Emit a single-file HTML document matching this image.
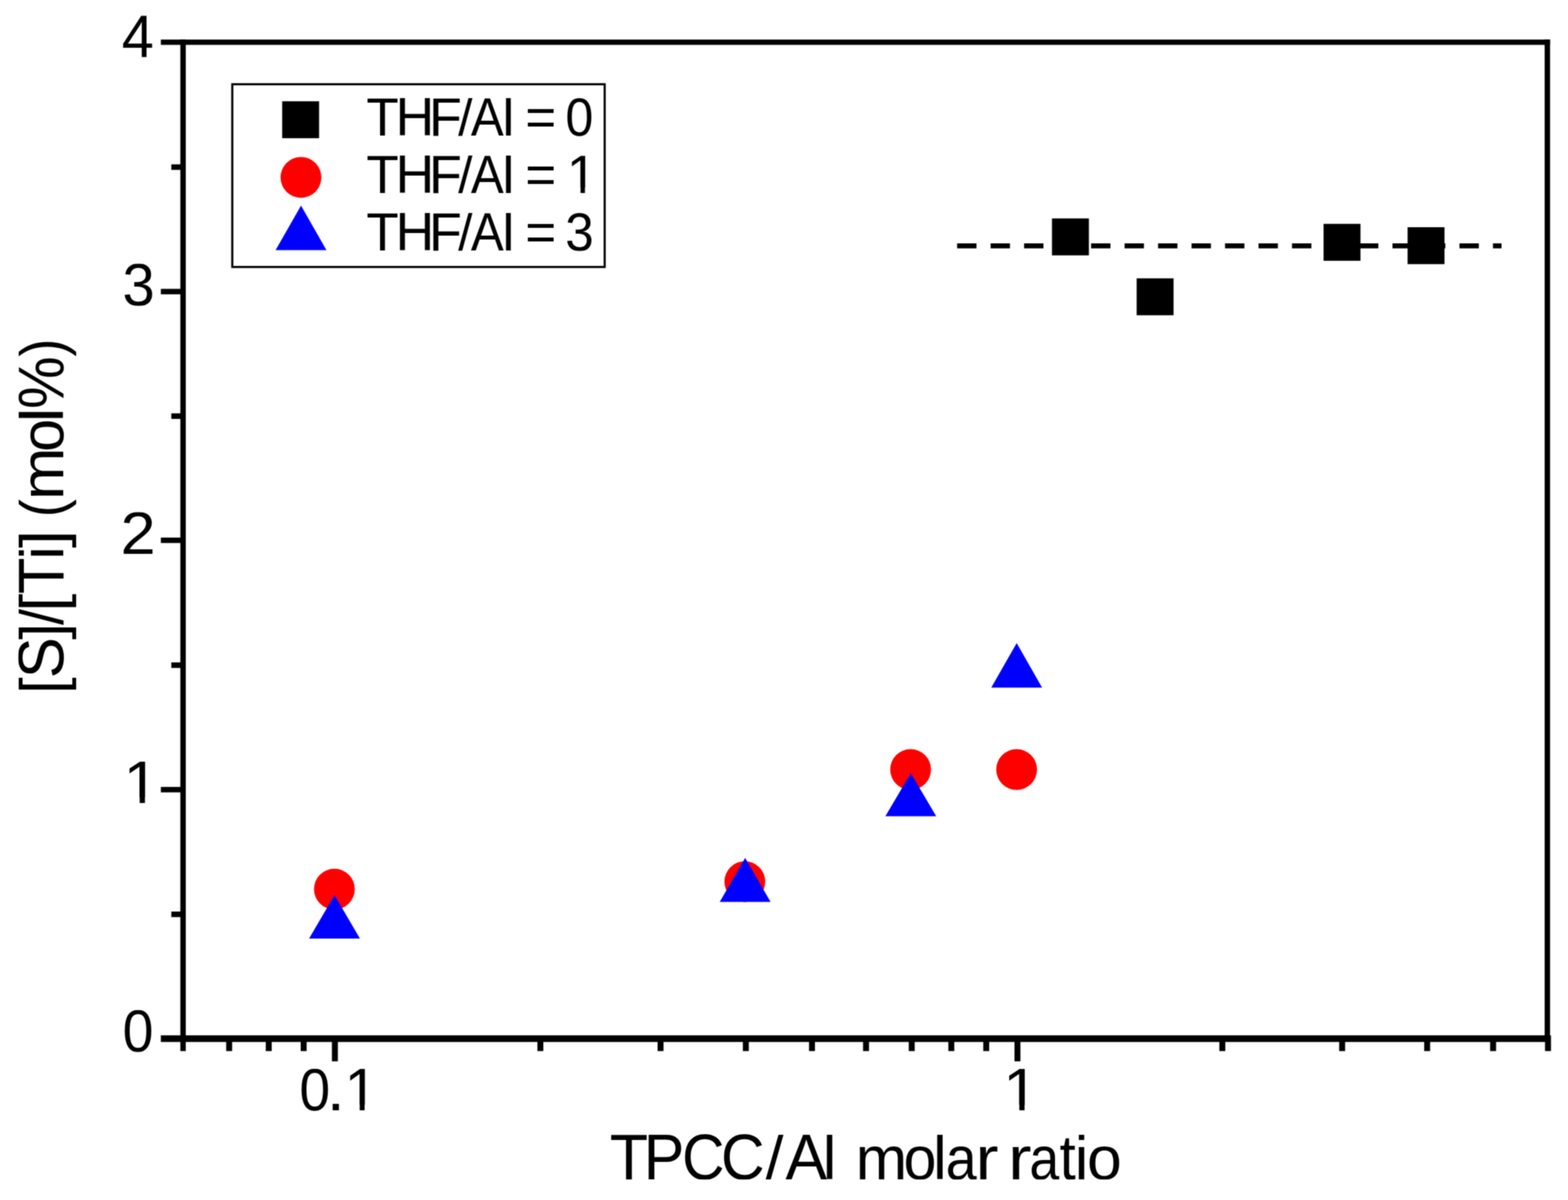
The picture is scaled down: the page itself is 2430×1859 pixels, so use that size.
<!DOCTYPE html>
<html lang="en"><head><meta charset="utf-8"><title>[S]/[Ti] vs TPCC/Al molar ratio</title>
<style>html,body{margin:0;padding:0;background:#fff;}body{width:2430px;height:1859px;}svg{display:block;}text{font-family:"Liberation Sans",Arial,Helvetica,sans-serif;fill:#000;white-space:pre;}</style>
</head><body>
<svg width="2430" height="1859" viewBox="0 0 2430 1859" role="img" aria-label="[S]/[Ti] (mol%) versus TPCC/Al molar ratio">
<rect x="0" y="0" width="2430" height="1859" fill="#fff"/>
<filter id="soften" filterUnits="userSpaceOnUse" x="0" y="0" width="2430" height="1859" color-interpolation-filters="sRGB"><feConvolveMatrix order="3" kernelMatrix="1 2 1 2 4 2 1 2 1" divisor="16" edgeMode="duplicate" preserveAlpha="true"/></filter>
<g id="figure" filter="url(#soften)">
<rect x="0" y="0" width="2430" height="1859" fill="#fff"/>
<g id="axes">
<rect x="279.50" y="61.30" width="8.40" height="1567.00" fill="#000"/>
<rect x="2393.80" y="61.30" width="8.40" height="1552.70" fill="#000"/>
<rect x="249.30" y="61.30" width="2152.90" height="8.20" fill="#000"/>
<rect x="249.30" y="1603.90" width="2152.90" height="10.30" fill="#000"/>
<rect x="2394.40" y="1604.00" width="9.20" height="24.30" fill="#000"/>
<rect x="249.30" y="1219.10" width="34.40" height="8.40" fill="#000"/>
<rect x="249.30" y="832.80" width="34.40" height="8.40" fill="#000"/>
<rect x="249.30" y="447.50" width="34.40" height="8.40" fill="#000"/>
<rect x="265.50" y="1412.15" width="18.20" height="8.60" fill="#000"/>
<rect x="265.50" y="1026.15" width="18.20" height="8.60" fill="#000"/>
<rect x="265.50" y="640.35" width="18.20" height="8.60" fill="#000"/>
<rect x="265.50" y="254.60" width="18.20" height="8.60" fill="#000"/>
<rect x="514.40" y="1609.00" width="9.20" height="35.20" fill="#000"/>
<rect x="1572.20" y="1609.00" width="9.20" height="35.20" fill="#000"/>
<rect x="350.54" y="1609.00" width="9.20" height="19.30" fill="#000"/>
<rect x="411.89" y="1609.00" width="9.20" height="19.30" fill="#000"/>
<rect x="466.00" y="1609.00" width="9.20" height="19.30" fill="#000"/>
<rect x="832.83" y="1609.00" width="9.20" height="19.30" fill="#000"/>
<rect x="1019.10" y="1609.00" width="9.20" height="19.30" fill="#000"/>
<rect x="1151.26" y="1609.00" width="9.20" height="19.30" fill="#000"/>
<rect x="1253.77" y="1609.00" width="9.20" height="19.30" fill="#000"/>
<rect x="1337.53" y="1609.00" width="9.20" height="19.30" fill="#000"/>
<rect x="1408.34" y="1609.00" width="9.20" height="19.30" fill="#000"/>
<rect x="1469.69" y="1609.00" width="9.20" height="19.30" fill="#000"/>
<rect x="1523.80" y="1609.00" width="9.20" height="19.30" fill="#000"/>
<rect x="1889.67" y="1609.00" width="9.20" height="19.30" fill="#000"/>
<rect x="2075.37" y="1609.00" width="9.20" height="19.30" fill="#000"/>
<rect x="2207.13" y="1609.00" width="9.20" height="19.30" fill="#000"/>
<rect x="2309.33" y="1609.00" width="9.20" height="19.30" fill="#000"/>
</g>
<g id="refline">
<line x1="1483.3" y1="380.9" x2="2327" y2="380.9" stroke="#000" stroke-width="7.8" stroke-dasharray="30 21.9"/>
</g>
<g id="series-thf0">
<rect x="1630.30" y="338.40" width="57.20" height="57.20" fill="#000"/>
<rect x="1761.50" y="431.20" width="57.20" height="57.20" fill="#000"/>
<rect x="2051.20" y="346.80" width="57.20" height="57.20" fill="#000"/>
<rect x="2181.40" y="352.00" width="57.20" height="57.20" fill="#000"/>
</g>
<g id="series-thf1">
<circle cx="518.20" cy="1377.40" r="31.60" fill="#ff0000"/>
<circle cx="1154.30" cy="1365.80" r="31.60" fill="#ff0000"/>
<circle cx="1411.20" cy="1192.20" r="31.60" fill="#ff0000"/>
<circle cx="1575.50" cy="1192.20" r="31.60" fill="#ff0000"/>
</g>
<g id="series-thf3">
<polygon points="518.40,1386.50 557.80,1454.00 479.00,1454.00" fill="#0000ff"/>
<polygon points="1154.80,1329.00 1194.20,1397.30 1115.40,1397.30" fill="#0000ff"/>
<polygon points="1411.50,1197.70 1450.90,1264.60 1372.10,1264.60" fill="#0000ff"/>
<polygon points="1575.60,996.20 1615.00,1065.30 1536.20,1065.30" fill="#0000ff"/>
</g>
<g id="legend">
<rect x="360.0" y="130.5" width="577.10" height="283.10" fill="#fff" stroke="#000" stroke-width="3.3"/>
<rect x="437.30" y="156.90" width="57.20" height="57.20" fill="#000"/>
<circle cx="466.40" cy="274.80" r="31.60" fill="#ff0000"/>
<polygon points="466.50,318.40 505.90,387.40 427.10,387.40" fill="#0000ff"/>
</g>
<g id="ticklabels">
<clipPath id="glyphbox1"><path clip-rule="evenodd" d="M0 23.51H2430V88.80H0Z"/></clipPath>
<g clip-path="url(#glyphbox1)"><text transform="scale(1.0000,1)" y="88.10" font-size="93.30"><tspan x="188.66" textLength="49.56" lengthAdjust="spacingAndGlyphs">4</tspan></text></g>
<clipPath id="glyphbox2"><path clip-rule="evenodd" d="M0 408.41H2430V473.70H0Z"/></clipPath>
<g clip-path="url(#glyphbox2)"><text transform="scale(1.0000,1)" y="473.00" font-size="93.30"><tspan x="189.87" textLength="50.09" lengthAdjust="spacingAndGlyphs">3</tspan></text></g>
<clipPath id="glyphbox3"><path clip-rule="evenodd" d="M0 793.41H2430V858.70H0Z"/></clipPath>
<g clip-path="url(#glyphbox3)"><text transform="scale(1.0000,1)" y="858.00" font-size="93.30"><tspan x="186.88" textLength="54.45" lengthAdjust="spacingAndGlyphs">2</tspan></text></g>
<clipPath id="glyphbox4"><path clip-rule="evenodd" d="M0 1564.41H2430V1629.70H0Z"/></clipPath>
<g clip-path="url(#glyphbox4)"><text transform="scale(1.0000,1)" y="1629.00" font-size="93.30"><tspan x="190.04" textLength="47.82" lengthAdjust="spacingAndGlyphs">0</tspan></text></g>
<clipPath id="glyphbox5"><path clip-rule="evenodd" d="M0 1179.61H2430V1244.90H0Z M196.82 1235.43H216.46V1246.20H196.82Z M224.60 1235.43H243.46V1246.20H224.60Z"/></clipPath>
<g clip-path="url(#glyphbox5)"><text transform="scale(1.0600,1)" y="1244.20" font-size="93.30"><tspan x="180.46">1</tspan></text></g>
<clipPath id="glyphbox6"><path clip-rule="evenodd" d="M0 1655.61H2430V1720.90H0Z M538.80 1711.43H557.45V1722.20H538.80Z M565.10 1711.43H583.03V1722.20H565.10Z"/></clipPath>
<g clip-path="url(#glyphbox6)"><text transform="scale(1.0000,1)" y="1720.20" font-size="93.30"><tspan x="463.95" textLength="47.64" lengthAdjust="spacingAndGlyphs">0</tspan><tspan x="506.20" textLength="28.30" lengthAdjust="spacingAndGlyphs">.</tspan><tspan x="533.69">1</tspan></text></g>
<clipPath id="glyphbox7"><path clip-rule="evenodd" d="M0 1655.61H2430V1720.90H0Z M1560.02 1711.43H1579.66V1722.20H1560.02Z M1587.80 1711.43H1606.66V1722.20H1587.80Z"/></clipPath>
<g clip-path="url(#glyphbox7)"><text transform="scale(1.0600,1)" y="1720.20" font-size="93.30"><tspan x="1466.50">1</tspan></text></g>
</g>
<g id="legendtext">
<clipPath id="glyphbox8"><path clip-rule="evenodd" d="M0 152.07H2430V211.10H0Z"/></clipPath>
<g clip-path="url(#glyphbox8)"><text transform="scale(1.0000,1)" y="210.40" font-size="84.20"><tspan x="567.76" textLength="50.13" lengthAdjust="spacingAndGlyphs">T</tspan><tspan x="612.89" textLength="59.99" lengthAdjust="spacingAndGlyphs">H</tspan><tspan x="664.74" textLength="51.11" lengthAdjust="spacingAndGlyphs">F</tspan><tspan x="709.90" font-size="79.94" textLength="22.20" lengthAdjust="spacingAndGlyphs">/</tspan><tspan x="729.75" textLength="50.90" lengthAdjust="spacingAndGlyphs">A</tspan><tspan x="778.43" font-size="79.94" textLength="18.71" lengthAdjust="spacingAndGlyphs">l</tspan><tspan x="797.13"> </tspan><tspan x="813.88" textLength="48.08" lengthAdjust="spacingAndGlyphs">=</tspan><tspan x="861.96"> </tspan><tspan x="876.36" textLength="43.28" lengthAdjust="spacingAndGlyphs">0</tspan></text></g>
<clipPath id="glyphbox9"><path clip-rule="evenodd" d="M0 240.57H2430V299.60H0Z M882.60 290.81H899.66V300.90H882.60Z M906.50 290.81H922.90V300.90H906.50Z"/></clipPath>
<g clip-path="url(#glyphbox9)"><text transform="scale(1.0000,1)" y="298.90" font-size="84.20"><tspan x="567.76" textLength="50.13" lengthAdjust="spacingAndGlyphs">T</tspan><tspan x="612.89" textLength="59.99" lengthAdjust="spacingAndGlyphs">H</tspan><tspan x="664.74" textLength="51.11" lengthAdjust="spacingAndGlyphs">F</tspan><tspan x="709.90" font-size="79.94" textLength="22.20" lengthAdjust="spacingAndGlyphs">/</tspan><tspan x="729.75" textLength="50.90" lengthAdjust="spacingAndGlyphs">A</tspan><tspan x="778.43" font-size="79.94" textLength="18.71" lengthAdjust="spacingAndGlyphs">l</tspan><tspan x="797.13"> </tspan><tspan x="813.88" textLength="48.08" lengthAdjust="spacingAndGlyphs">=</tspan><tspan x="861.96 878.19"> 1</tspan></text></g>
<clipPath id="glyphbox10"><path clip-rule="evenodd" d="M0 329.67H2430V388.70H0Z"/></clipPath>
<g clip-path="url(#glyphbox10)"><text transform="scale(1.0000,1)" y="388.00" font-size="84.20"><tspan x="567.76" textLength="50.13" lengthAdjust="spacingAndGlyphs">T</tspan><tspan x="612.89" textLength="59.99" lengthAdjust="spacingAndGlyphs">H</tspan><tspan x="664.74" textLength="51.11" lengthAdjust="spacingAndGlyphs">F</tspan><tspan x="709.90" font-size="79.94" textLength="22.20" lengthAdjust="spacingAndGlyphs">/</tspan><tspan x="729.75" textLength="50.90" lengthAdjust="spacingAndGlyphs">A</tspan><tspan x="778.43" font-size="79.94" textLength="18.71" lengthAdjust="spacingAndGlyphs">l</tspan><tspan x="797.13"> </tspan><tspan x="813.88" textLength="48.08" lengthAdjust="spacingAndGlyphs">=</tspan><tspan x="861.96"> </tspan><tspan x="876.08" textLength="44.11" lengthAdjust="spacingAndGlyphs">3</tspan></text></g>
</g>
<g id="titles">
<clipPath id="glyphbox11"><path clip-rule="evenodd" d="M0 1757.03H2430V1827.20H0Z"/></clipPath>
<g clip-path="url(#glyphbox11)"><text transform="scale(1.0000,1)" y="1826.50" font-size="100.40"><tspan x="945.11" textLength="59.47" lengthAdjust="spacingAndGlyphs">T</tspan><tspan x="997.43" textLength="63.16" lengthAdjust="spacingAndGlyphs">P</tspan><tspan x="1056.97" textLength="65.91" lengthAdjust="spacingAndGlyphs">C</tspan><tspan x="1117.13" textLength="67.85" lengthAdjust="spacingAndGlyphs">C</tspan><tspan x="1186.50" font-size="95.33" textLength="27.70" lengthAdjust="spacingAndGlyphs">/</tspan><tspan x="1217.31" textLength="64.48" lengthAdjust="spacingAndGlyphs">A</tspan><tspan x="1274.96" font-size="95.33" textLength="21.23" lengthAdjust="spacingAndGlyphs">l</tspan><tspan x="1296.19"> </tspan><tspan x="1326.12" font-size="94.38" textLength="80.01" lengthAdjust="spacingAndGlyphs">m</tspan><tspan x="1400.25" font-size="94.38" textLength="51.00" lengthAdjust="spacingAndGlyphs">o</tspan><tspan x="1445.96" font-size="95.33" textLength="21.23" lengthAdjust="spacingAndGlyphs">l</tspan><tspan x="1465.43" font-size="94.38" textLength="48.07" lengthAdjust="spacingAndGlyphs">a</tspan><tspan x="1511.78" font-size="94.38" textLength="35.70" lengthAdjust="spacingAndGlyphs">r</tspan><tspan x="1547.48"> </tspan><tspan x="1562.35" font-size="94.38" textLength="36.36" lengthAdjust="spacingAndGlyphs">r</tspan><tspan x="1595.27" font-size="94.38" textLength="46.23" lengthAdjust="spacingAndGlyphs">a</tspan><tspan x="1642.03" font-size="98.39" textLength="25.13" lengthAdjust="spacingAndGlyphs">t</tspan><tspan x="1665.51" font-size="95.33" textLength="21.23" lengthAdjust="spacingAndGlyphs">i</tspan><tspan x="1684.42" font-size="94.38" textLength="54.06" lengthAdjust="spacingAndGlyphs">o</tspan></text></g>
<clipPath id="glyphbox12"><rect x="28.53" y="0" width="101.60" height="1859"/></clipPath>
<g clip-path="url(#glyphbox12)"><text transform="translate(98.00,1068.80) rotate(-90) scale(1.0000,1)" y="0" font-size="100.40"><tspan x="-6.03" font-size="95.33" textLength="25.44" lengthAdjust="spacingAndGlyphs">[</tspan><tspan x="17.98" textLength="63.49" lengthAdjust="spacingAndGlyphs">S</tspan><tspan x="77.88" font-size="95.33" textLength="25.44" lengthAdjust="spacingAndGlyphs">]</tspan><tspan x="100.50" font-size="95.33" textLength="24.80" lengthAdjust="spacingAndGlyphs">/</tspan><tspan x="121.03" font-size="95.33" textLength="27.96" lengthAdjust="spacingAndGlyphs">[</tspan><tspan x="148.48" textLength="56.34" lengthAdjust="spacingAndGlyphs">T</tspan><tspan x="201.51" font-size="95.33" textLength="21.23" lengthAdjust="spacingAndGlyphs">i</tspan><tspan x="219.81" font-size="95.33" textLength="27.96" lengthAdjust="spacingAndGlyphs">]</tspan><tspan x="247.77"> </tspan><tspan x="267.51" font-size="95.33" textLength="27.88" lengthAdjust="spacingAndGlyphs">(</tspan><tspan x="294.34" font-size="94.38" textLength="81.08" lengthAdjust="spacingAndGlyphs">m</tspan><tspan x="368.83" font-size="94.38" textLength="51.24" lengthAdjust="spacingAndGlyphs">o</tspan><tspan x="414.35" font-size="95.33" textLength="23.26" lengthAdjust="spacingAndGlyphs">l</tspan><tspan x="435.34" textLength="81.43" lengthAdjust="spacingAndGlyphs">%</tspan><tspan x="516.21" font-size="95.33" textLength="27.88" lengthAdjust="spacingAndGlyphs">)</tspan></text></g>
</g>
</g>
</svg>
</body></html>
